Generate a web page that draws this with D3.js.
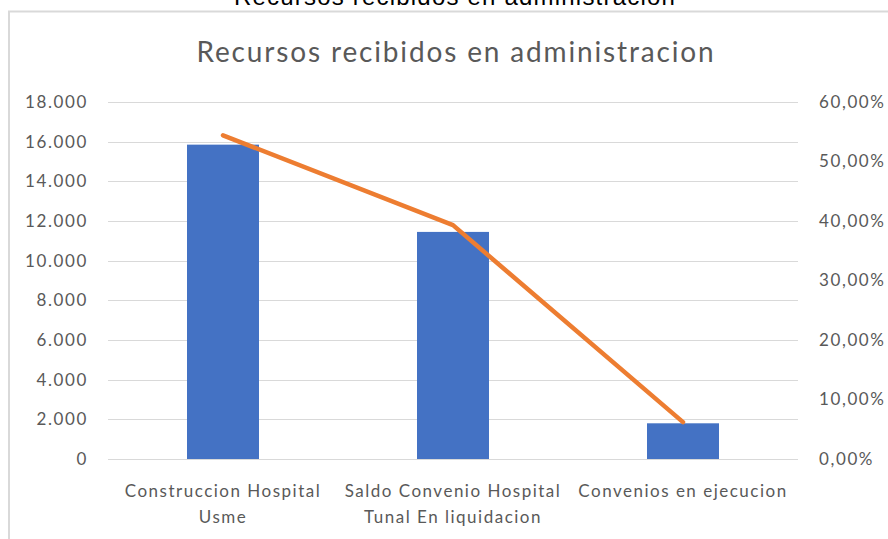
<!DOCTYPE html>
<html>
<head>
<meta charset="utf-8">
<script src="https://cdn.jsdelivr.net/npm/d3@7"></script>
<style>
  body { margin: 0; background: #fff; }
  text { font-family: Lato, "Open Sans", sans-serif; }
</style>
</head>
<body>
<div id="chart"></div>
<script>
// Data
var categories = [
  ["Construccion Hospital", "Usme"],
  ["Saldo Convenio Hospital", "Tunal En liquidacion"],
  ["Convenios en ejecucion"]
];
var amounts = [15850, 11450, 1800];
var shares = [0.544, 0.393, 0.062];
var leftTicks = [0, 2000, 4000, 6000, 8000, 10000, 12000, 14000, 16000, 18000];
var rightTicks = [0, 0.1, 0.2, 0.3, 0.4, 0.5, 0.6];

var svgWidth = 888;
var svgHeight = 539;

var margin = { top: 102, right: 90, bottom: 80, left: 108 };
var width = svgWidth - margin.left - margin.right;
var height = 459 - margin.top;

var svg = d3.select("#chart")
  .append("svg")
  .attr("width", svgWidth)
  .attr("height", svgHeight);

// outer caption, cut off at the top like in the source
svg.append("text")
  .attr("x", 455)
  .attr("y", 5)
  .attr("text-anchor", "middle")
  .style("font-family", "'Liberation Sans', Arial, sans-serif")
  .style("font-size", "24px")
  .style("letter-spacing", "1.2px")
  .attr("fill", "#000")
  .text("Recursos recibidos en administracion");

// chart frame
svg.append("rect")
  .attr("x", 9)
  .attr("y", 11.5)
  .attr("width", 900)
  .attr("height", 600)
  .attr("fill", "none")
  .attr("stroke", "#d9d9d9")
  .attr("stroke-width", 2);

svg.append("text")
  .attr("x", 456)
  .attr("y", 62)
  .attr("text-anchor", "middle")
  .style("font-size", "28px")
  .style("letter-spacing", "1.85px")
  .attr("fill", "#595959")
  .text("Recursos recibidos en administracion");

var chartGroup = svg.append("g")
  .attr("transform", `translate(${margin.left}, ${margin.top})`);

var x = d3.scaleBand()
  .domain(d3.range(categories.length))
  .range([0, width])
  .paddingInner(0.687)
  .paddingOuter(0.3435);

var yLeft = d3.scaleLinear().domain([0, 18000]).range([height, 0]);
var yRight = d3.scaleLinear().domain([0, 0.6]).range([height, 0]);

// gridlines
chartGroup.append("g")
  .selectAll("line")
  .data(leftTicks)
  .enter()
  .append("line")
  .attr("x1", 0)
  .attr("x2", width)
  .attr("y1", d => Math.round(yLeft(d)) + 0.5)
  .attr("y2", d => Math.round(yLeft(d)) + 0.5)
  .attr("stroke", "#d9d9d9")
  .attr("stroke-width", 1);

var locale = d3.formatLocale({ decimal: ",", thousands: ".", grouping: [3], currency: ["", ""] });
var fmtLeft = locale.format(",.0f");
var fmtRight = locale.format(".2%");

var leftAxis = d3.axisLeft(yLeft).tickValues(leftTicks).tickFormat(fmtLeft).tickSize(0).tickPadding(20);
var rightAxis = d3.axisRight(yRight).tickValues(rightTicks).tickFormat(fmtRight).tickSize(0).tickPadding(21);

var gl = chartGroup.append("g").call(leftAxis);
var gr = chartGroup.append("g").attr("transform", `translate(${width}, 0)`).call(rightAxis);
[gl, gr].forEach(function(g) {
  g.select(".domain").remove();
  g.selectAll("text")
    .style("font-family", "Lato, 'Open Sans', sans-serif")
    .style("font-size", "17px")
    .style("letter-spacing", "1.6px")
    .attr("fill", "#595959");
});

// bars
chartGroup.selectAll("rect.bar")
  .data(amounts)
  .enter()
  .append("rect")
  .attr("class", "bar")
  .attr("x", (d, i) => x(i))
  .attr("width", x.bandwidth())
  .attr("y", d => yLeft(d))
  .attr("height", d => height - yLeft(d))
  .attr("fill", "#4472c4");

// share line
var line = d3.line()
  .x((d, i) => x(i) + x.bandwidth() / 2)
  .y(d => yRight(d));

chartGroup.append("path")
  .datum(shares)
  .attr("d", line)
  .attr("fill", "none")
  .attr("stroke", "#ed7d31")
  .attr("stroke-width", 4.5)
  .attr("stroke-linecap", "round")
  .attr("stroke-linejoin", "round");

// category labels
var cat = chartGroup.append("g")
  .selectAll("text")
  .data(categories)
  .enter()
  .append("text")
  .attr("x", (d, i) => x(i) + x.bandwidth() / 2)
  .attr("y", height + 38)
  .attr("text-anchor", "middle")
  .style("font-size", "17px")
  .style("letter-spacing", "1.5px")
  .attr("fill", "#595959");

cat.selectAll("tspan")
  .data(d => d)
  .enter()
  .append("tspan")
  .attr("x", function() { return d3.select(this.parentNode).attr("x"); })
  .attr("dy", (d, i) => i === 0 ? 0 : 26)
  .text(d => d);
</script>
</body>
</html>
